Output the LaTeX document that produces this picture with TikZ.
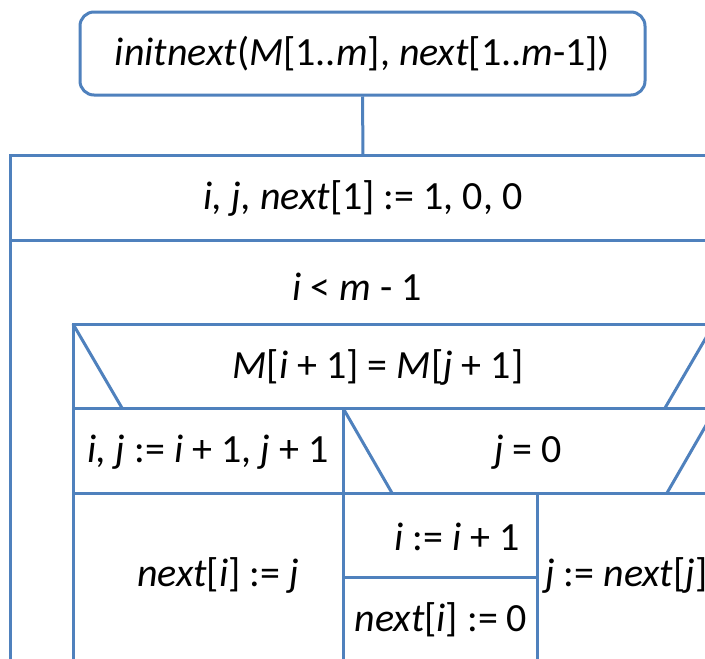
\documentclass[tikz,border=0pt]{standalone}
\usepackage{fontspec}
\setmainfont{Carlito}
\definecolor{nsblue}{RGB}{79,129,189}
\tikzset{
  ns/.style={draw=nsblue, line width=3pt},
  lbl/.style={font=\fontsize{40}{44}\selectfont, inner sep=0pt, text=black}
}
\begin{document}
\begin{tikzpicture}[x=1pt,y=-1pt]
\useasboundingbox (0,0) rectangle (705,659);
\fill[white] (0,0) rectangle (705,659);
\clip (0,0) rectangle (705,659);
% header
\node[ns, rounded corners=14pt, minimum width=565pt, minimum height=83pt, lbl] (head) at (362.5,53.5)
  {\textit{initnext}(\textit{M}[1..\textit{m}], \textit{next}[1..\textit{m}-1])};
\coordinate (seqtop) at (363,155);
\draw[ns] (head.south) -- (seqtop);
% outer sequence box
\draw[ns] (10,760) -- (10,155) -- (760,155);
\draw[ns] (10,240) -- (760,240);
\node[lbl] (init) at (363,198) {\textit{i, j, next}[1] := 1, 0, 0};
% loop
\node[lbl] (cond) at (357,287) {\textit{i} < \textit{m} - 1};
\draw[ns] (73,760) -- (73,324) -- (760,324);
\draw[ns] (73,408) -- (760,408);
\draw[ns] (73,324) -- (122,408);
\draw[ns] (665,408) -- (714,324);
\node[lbl] (ifm) at (378,367) {\textit{M}[\textit{i} + 1] = \textit{M}[\textit{j} + 1]};
% second row
\draw[ns] (343,408) -- (343,760);
\draw[ns] (343,408) -- (392,493);
\draw[ns] (667,493) -- (716,408);
\draw[ns] (73,493) -- (760,493);
\draw[ns] (537,493) -- (537,760);
\draw[ns] (343,577) -- (537,577);
\node[lbl] (incij) at (208,452) {\textit{i, j} := \textit{i} + 1, \textit{j} + 1};
\node[lbl] (ifj) at (528,452) {\textit{j} = 0};
% third row
\node[lbl] (setnext) at (218,575) {\textit{next}[\textit{i}] := \textit{j}};
\node[lbl] (inci) at (457,537) {\textit{i} := \textit{i} + 1};
\node[lbl] (zero) at (441,620) {\textit{next}[\textit{i}] := 0};
\node[lbl, anchor=west] (back) at (545,575) {\textit{j} := \textit{next}[\textit{j}]};
\end{tikzpicture}
\end{document}
